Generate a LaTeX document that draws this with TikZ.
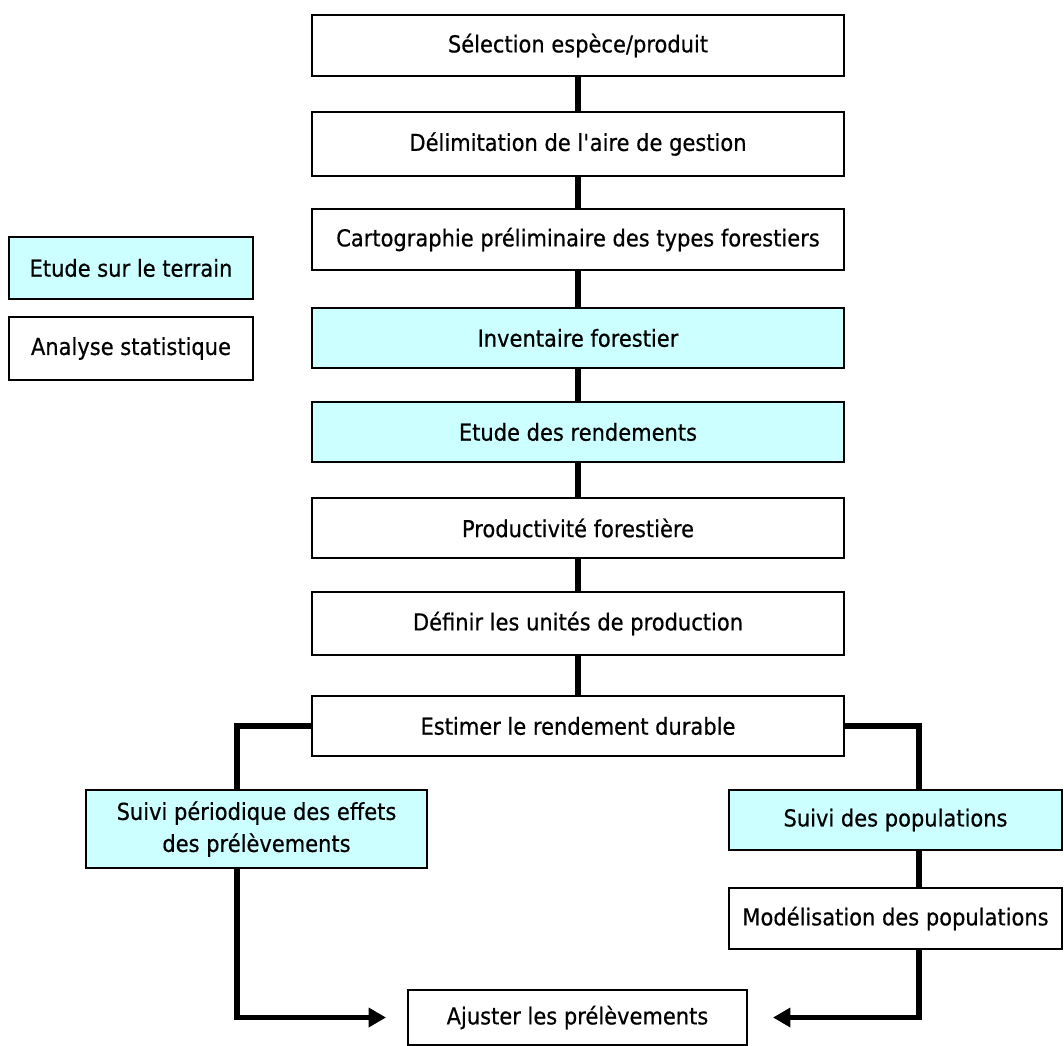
\documentclass[tikz,border=0pt]{standalone}
\usepackage{fontspec}
\setmainfont[FakeStretch=0.9,FakeBold=0.5]{DejaVu Sans}
\usetikzlibrary{arrows.meta}
\definecolor{cyanfill}{RGB}{204,255,255}
\newcommand\mybox[6]{\node[#6, minimum width={(#4-#2)*0.75pt}, minimum height={(#5-#3)*0.75pt}] (#1) at ({(#2+#4)/2},{(#3+#5)/2})}
\begin{document}
\begin{tikzpicture}[x=0.75pt,y=-0.75pt,
  box/.style={draw=black, line width=1.5pt, fill=white, inner sep=0pt, font=\fontsize{17.5}{24}\selectfont, align=center},
  fieldbox/.style={box, fill=cyanfill},
  conn/.style={line width=4.2pt},
  arr/.style={conn, -{Triangle[length=13pt,width=14pt]}}]
\useasboundingbox (0,0) rectangle (1064,1046);
% main column
\mybox{sel}{312}{15}{844}{76}{box}{Sélection espèce/produit};
\mybox{del}{312}{112}{844}{176}{box}{Délimitation de l\textquotesingle aire de gestion};
\mybox{carto}{312}{209}{844}{270}{box}{Cartographie préliminaire des types forestiers};
\mybox{inv}{312}{308}{844}{368}{fieldbox}{Inventaire forestier};
\mybox{etude}{312}{402}{844}{462}{fieldbox}{Etude des rendements};
\mybox{prod}{312}{498}{844}{558}{box}{Productivité forestière};
\mybox{def}{312}{592}{844}{655}{box}{Définir les unités de production};
\mybox{est}{312}{696}{844}{756}{box}{Estimer le rendement durable};
% legend
\mybox{legf}{9}{237}{253}{299}{fieldbox}{Etude sur le terrain};
\mybox{legs}{9}{317}{253}{380}{box}{Analyse statistique};
% branches
\mybox{sp}{86}{790}{427}{868}{fieldbox}{Suivi périodique des effets\\des prélèvements};
\mybox{spop}{729}{790}{1062}{850}{fieldbox}{Suivi des populations};
\mybox{mod}{729}{888}{1062}{949}{box}{Modélisation des populations};
\mybox{aj}{408}{990}{747}{1045}{box}{Ajuster les prélèvements};
% connectors
\draw[conn] (sel) -- (del);
\draw[conn] (del) -- (carto);
\draw[conn] (carto) -- (inv);
\draw[conn] (inv) -- (etude);
\draw[conn] (etude) -- (prod);
\draw[conn] (prod) -- (def);
\draw[conn] (def) -- (est);
\coordinate (lx) at (237,0);
\coordinate (rx) at (919,0);
\draw[conn] (est.west) -| (sp.north -| lx);
\draw[arr, shorten >=15.75pt] (sp.south -| lx) |- (aj.west);
\draw[conn] (est.east) -| (spop.north -| rx);
\draw[conn] (spop.south -| rx) -- (mod.north -| rx);
\draw[arr, shorten >=18.75pt] (mod.south -| rx) |- (aj.east);
\end{tikzpicture}
\end{document}
